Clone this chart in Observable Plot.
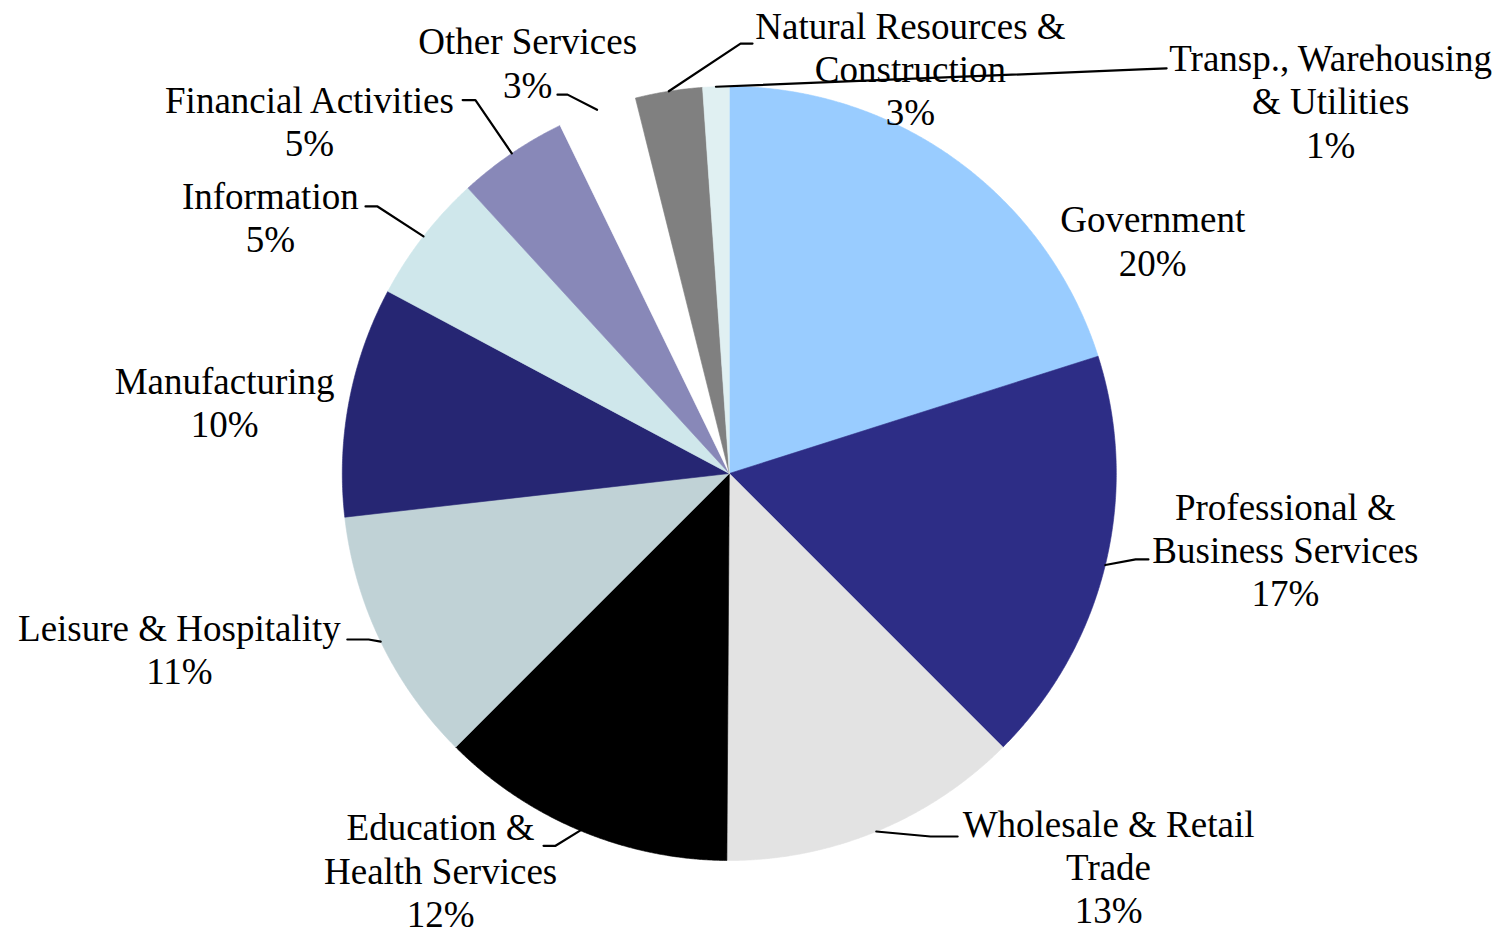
<!DOCTYPE html>
<html>
<head>
<meta charset="utf-8">
<script src="https://cdn.jsdelivr.net/npm/d3@7"></script>
<script src="https://cdn.jsdelivr.net/npm/@observablehq/plot@0.6"></script>
<style>
  html, body { margin: 0; padding: 0; background: #ffffff; }
  #chart svg { display: block; }
  #chart svg text { font-family: "Liberation Serif", "Times New Roman", "DejaVu Serif", serif !important; }
</style>
</head>
<body>
<div id="chart"></div>
<script>
// ---------- DATA ----------
const sectors = [
  "Government",
  "Professional & Business Services",
  "Wholesale & Retail Trade",
  "Education & Health Services",
  "Leisure & Hospitality",
  "Manufacturing",
  "Information",
  "Financial Activities",
  "Other Services",
  "Natural Resources & Construction",
  "Transp., Warehousing & Utilities"
];
const shares = [20.1, 17.4, 12.6, 12.4, 10.7, 9.6, 5.4, 4.6, 3.3, 2.8, 1.1];
const sectorLabelLines = [
  "Government",
  "Professional &\nBusiness Services",
  "Wholesale & Retail\nTrade",
  "Education &\nHealth Services",
  "Leisure & Hospitality",
  "Manufacturing",
  "Information",
  "Financial Activities",
  "Other Services",
  "Natural Resources &\nConstruction",
  "Transp., Warehousing\n& Utilities"
];

// ---------- STYLE / LAYOUT ----------
const sectorColors = ["#99CCFF", "#2D2D86", "#E3E3E3", "#000000", "#C0D2D6", "#262673",
                      "#CFE7EB", "#8888B8", "#FFFFFF", "#808080", "#E0F0F2"];
const W = 1503, H = 936;
const CX = 728.8, CY = 473, R = 387;           // pie placement in pixels
// label block centres, in pie-radius units
const labelPos = [
  [1.094, 0.603], [1.437, -0.195], [0.980, -1.015], [-0.746, -1.024],
  [-1.421, -0.453], [-1.304, 0.185], [-1.186, 0.664], [-1.085, 0.912],
  [-0.521, 1.063], [0.468, 1.047], [1.554, 0.964]
];
// leader line elbow and end (pie-radius units); null = no leader
const leaderPos = [
  null,
  [[1.050, -0.222], [1.083, -0.222]],
  [[0.520, -0.938], [0.590, -0.938]],
  [[-0.449, -0.962], [-0.480, -0.962]],
  [[-0.932, -0.429], [-0.987, -0.429]],
  null,
  [[-0.909, 0.690], [-0.940, 0.690]],
  [[-0.656, 0.965], [-0.689, 0.965]],
  [[-0.418, 0.979], [-0.444, 0.979]],
  [[0.029, 1.111], [0.060, 1.111]],
  [[1.063, 1.044], [1.130, 1.047]]
];

// ---------- BUILD ----------
const rows = sectors.map((s, i) => ({sector: s, share: shares[i], i}));
const arcs = d3.pie().sort(null).value(d => d.share).startAngle(0).endAngle(2 * Math.PI)(rows);

const slicePts = [];
arcs.forEach(a => {
  const s = a.data.sector;
  slicePts.push({sector: s, x: 0, y: 0});
  const n = Math.max(4, Math.ceil((a.endAngle - a.startAngle) / (Math.PI / 720)));
  for (let k = 0; k <= n; k++) {
    const t = a.startAngle + (a.endAngle - a.startAngle) * k / n;
    slicePts.push({sector: s, x: Math.sin(t), y: Math.cos(t)});
  }
  slicePts.push({sector: s, x: 0, y: 0});
});

const leaderPts = [];
arcs.forEach(a => {
  const lp = leaderPos[a.data.i];
  if (!lp) return;
  const mid = (a.startAngle + a.endAngle) / 2;
  const s = a.data.sector;
  leaderPts.push({sector: s, x: Math.sin(mid), y: Math.cos(mid)});
  lp.forEach(p => leaderPts.push({sector: s, x: p[0], y: p[1]}));
});

const labels = rows.map(d => ({
  sector: d.sector,
  x: labelPos[d.i][0],
  y: labelPos[d.i][1],
  text: sectorLabelLines[d.i] + "\n" + d3.format(".0f")(d.share) + "%"
}));

const chart = Plot.plot({
  width: W,
  height: H,
  margin: 0,
  x: {domain: [-1, 1], range: [CX - R, CX + R], axis: null},
  y: {domain: [-1, 1], range: [CY + R, CY - R], axis: null},
  color: {domain: sectors, range: sectorColors},
  style: {background: "#ffffff", fontFamily: "'Liberation Serif', 'Times New Roman', serif"},
  marks: [
    Plot.line(slicePts, {x: "x", y: "y", z: "sector", fill: "sector", stroke: "sector",
                         strokeWidth: 0.6, curve: "linear"}),
    Plot.line(leaderPts, {x: "x", y: "y", z: "sector", stroke: "#000000", strokeWidth: 2.2,
                          curve: "linear"}),
    Plot.text(labels, {x: "x", y: "y", text: "text", fontSize: 37,
                       fontFamily: "Liberation Serif",
                       lineHeight: 1.17, textAnchor: "middle", lineAnchor: "middle",
                       fill: "#000000"})
  ]
});
document.getElementById("chart").appendChild(chart);
</script>
</body>
</html>
